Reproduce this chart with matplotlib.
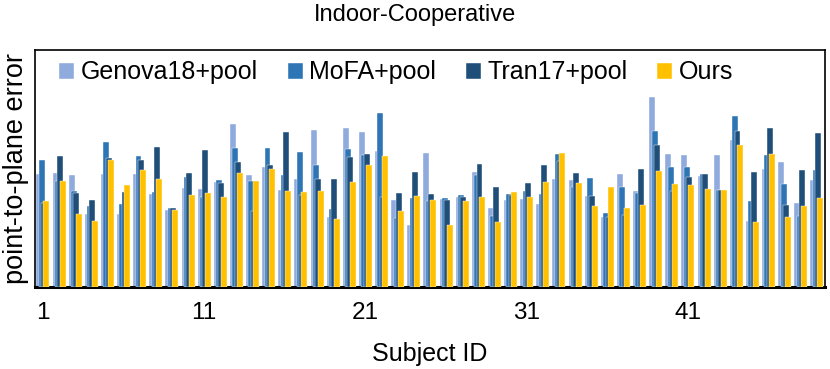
import matplotlib.pyplot as plt
import numpy as np

plt.rcParams['font.family'] = ['Liberation Sans', 'DejaVu Sans']

# Per-subject error (arbitrary units)
subjects = np.arange(1, 50)
genova = [113, 114, 112, 73, 113, 73, 113, 93, 77, 99, 98, 105, 163, 112, 120, 97, 108,
          157, 70, 159, 155, 136, 87, 62, 134, 88, 90, 115, 79, 87, 88, 83, 108, 107, 91,
          70, 113, 96, 190, 133, 132, 111, 132, 147, 66, 118, 125, 84, 107]
mofa = [127, 106, 96, 81, 145, 83, 131, 95, 79, 110, 90, 107, 139, 106, 139, 112, 135,
        122, 78, 138, 132, 174, 69, 89, 86, 89, 92, 112, 71, 93, 96, 93, 133, 100, 109,
        74, 100, 94, 156, 120, 120, 113, 97, 171, 86, 132, 103, 71, 117]
tran = [84, 131, 94, 87, 129, 95, 127, 140, 79, 114, 137, 104, 125, 76, 122, 155, 92,
        108, 108, 130, 133, 90, 94, 115, 93, 87, 90, 123, 100, 92, 104, 122, 126, 114, 91,
        70, 72, 118, 142, 96, 110, 113, 97, 156, 115, 159, 82, 117, 154]
ours = [86, 106, 73, 66, 127, 102, 117, 108, 77, 92, 94, 90, 114, 106, 118, 96, 95,
        96, 68, 105, 122, 131, 76, 91, 87, 62, 86, 90, 65, 95, 90, 105, 134, 104, 81,
        100, 79, 82, 116, 103, 102, 98, 97, 142, 65, 133, 70, 81, 89]

series_names = ["Genova18+pool", "MoFA+pool", "Tran17+pool", "Ours"]
series_colors = ["#8FAADC", "#2E75B6", "#1F4E79", "#FFC000"]
tick_subjects = [1, 11, 21, 31, 41]

#-------------------------------------------------------------------------------

fig = plt.figure(figsize=(8.3, 3.69), dpi=100)
ax = fig.add_axes([0.042, 0.222, 0.952, 0.642])

bar_w = 0.37
step = 0.145
for k, (vals, name, col) in enumerate(zip([genova, mofa, tran, ours], series_names, series_colors)):
  ax.bar(subjects + (k - 1.5) * step, vals, width=bar_w, color=col,
         edgecolor="white", linewidth=0.3, label=name, zorder=2 + k)

ax.set_xlim(0.5, 49.5)
ax.set_ylim(0, 237)
ax.set_yticks([])
ax.set_xticks(tick_subjects)
ax.set_xticklabels([str(s) for s in tick_subjects], fontsize=17.5)
ax.tick_params(axis='x', length=0, pad=11)

for s in ["left", "right", "top"]:
  ax.spines[s].set_linewidth(1.2)
ax.spines["bottom"].set_linewidth(2.2)

ax.set_xlabel("Subject ID", fontsize=18, labelpad=13)
ax.set_ylabel("point-to-plane error", fontsize=19.5, labelpad=4)
fig.suptitle("Indoor-Cooperative", fontsize=17, y=0.99)

ax.legend(loc="upper left", bbox_to_anchor=(0.012, 1.02), ncol=4, frameon=False,
          fontsize=18, handlelength=0.6, handleheight=0.6, handletextpad=0.25,
          columnspacing=1.2, borderaxespad=0.2)

fig.savefig("out.png", dpi=100)
